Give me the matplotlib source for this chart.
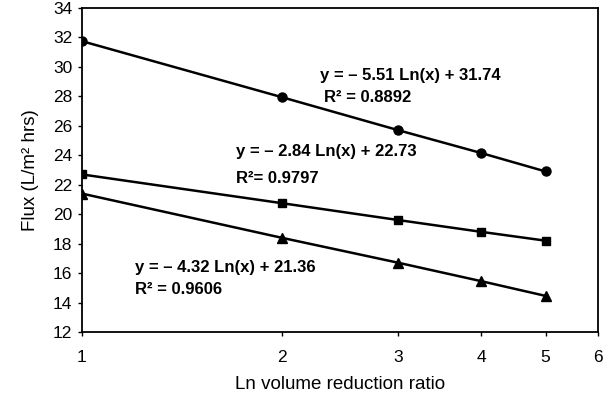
import numpy as np
import matplotlib.pyplot as plt

# volume reduction ratio
ratio = [1, 2, 3, 4, 5]

# flux values (L/m2 hrs)
flux_circle = [31.75, 27.95, 25.7, 24.15, 22.9]
flux_square = [22.7, 20.75, 19.6, 18.8, 18.2]
flux_triangle = [21.4, 18.4, 16.7, 15.45, 14.45]

x_ticks = [1, 2, 3, 4, 5, 6]
y_ticks = list(range(12, 35, 2))

plt.rcParams['font.family'] = ['Liberation Sans', 'DejaVu Sans']

fig = plt.figure(figsize=(6.11, 4.0), dpi=100)
ax = fig.add_axes([0.134, 0.17, 0.845, 0.81])

ax.plot(ratio, flux_circle, color='black', lw=1.8, marker='o', ms=6.5)
ax.plot(ratio, flux_square, color='black', lw=1.8, marker='s', ms=6)
ax.plot(ratio, flux_triangle, color='black', lw=1.8, marker='^', ms=6.5)

ax.set_xscale('log')
ax.set_xlim(1, 6)
ax.set_ylim(12, 34)
ax.set_xticks(x_ticks)
ax.set_xticklabels([str(t) for t in x_ticks])
ax.xaxis.set_minor_locator(plt.NullLocator())
ax.set_yticks(y_ticks)

ax.tick_params(axis='both', labelsize=12.5, length=3, width=1)
ax.tick_params(axis='x', pad=10)
ax.tick_params(axis='y', pad=4)
for sp in ax.spines.values():
    sp.set_linewidth(1.3)

ax.set_xlabel('Ln volume reduction ratio', fontsize=13.5, labelpad=8)
ax.set_ylabel('Flux (L/m\u00b2 hrs)', fontsize=13.5, labelpad=10)

# trendline equations
eq = dict(transform=ax.transAxes, fontsize=12, fontweight='bold', va='center')
ax.text(0.461, 0.793, 'y = \u2013 5.51 Ln(x) + 31.74', **eq)
ax.text(0.469, 0.725, 'R\u00b2 = 0.8892', **eq)
ax.text(0.298, 0.556, 'y = \u2013 2.84 Ln(x) + 22.73', **eq)
ax.text(0.298, 0.475, 'R\u00b2= 0.9797', **eq)
ax.text(0.103, 0.2, 'y = \u2013 4.32 Ln(x) + 21.36', **eq)
ax.text(0.103, 0.13, 'R\u00b2 = 0.9606', **eq)

fig.savefig('out.png', dpi=100)
